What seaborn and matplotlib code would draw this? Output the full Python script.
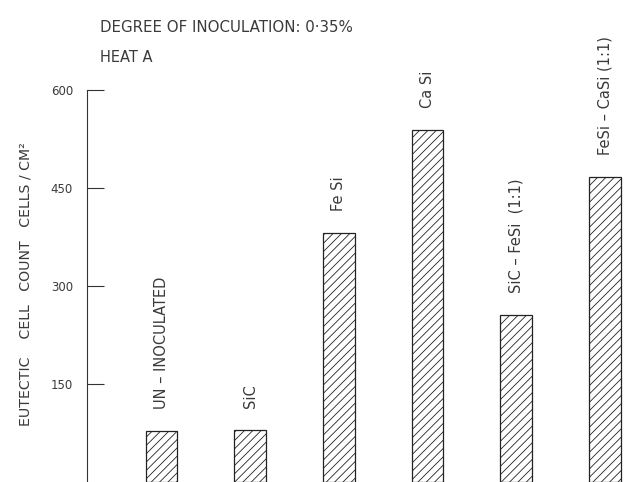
import matplotlib
matplotlib.use("Agg")
import matplotlib.pyplot as plt
import seaborn as sns
import pandas as pd

categories = ["UN – INOCULATED", "SiC", "Fe Si", "Ca Si", "SiC – FeSi  (1:1)", "FeSi – CaSi (1:1)"]
values = [78, 79, 381, 539, 256, 467]
yticks = [150, 300, 450, 600]

sns.set_theme(style="white")
plt.rcParams['font.family'] = ['DejaVu Sans']
plt.rcParams['hatch.linewidth'] = 0.6

W, H = 627, 482
fig = plt.figure(figsize=(W / 100, H / 100), dpi=100)
ax = fig.add_axes([87 / W, 0.0, 1 - 87 / W, (482 - 90) / H])

df = pd.DataFrame({"cat": categories, "val": values})
sns.barplot(data=df, x="cat", y="val", ax=ax, color="white", width=0.36,
            edgecolor="#222222", linewidth=0.9, saturation=1)
for p in ax.patches:
    p.set_hatch("////")
    p.set_facecolor("white")

txt = "#3a3a3a"
for i, (c, v) in enumerate(zip(categories, values)):
    ax.annotate(c, (i, v), xytext=(0, 16), textcoords="offset points",
                rotation=90, ha="center", va="bottom", fontsize=10.5, color=txt)

ax.set_xlim(-0.84, 5.25)
ax.set_ylim(0, 600)
ax.set_yticks(yticks)
ax.set_yticklabels([str(t) for t in yticks], fontsize=8.5, color=txt)
ax.tick_params(axis="y", direction="in", length=12, width=0.8, color="#333333", pad=10, left=True)
ax.set_xticks([])
ax.set_xlabel("")
ax.set_ylabel("")
for s in ["top", "right", "bottom"]:
    ax.spines[s].set_visible(False)
ax.spines["left"].set_color("#333333")
ax.spines["left"].set_linewidth(0.8)

fig.text(100 / W, 1 - 28 / H, "DEGREE OF INOCULATION: 0·35%", fontsize=10.8, color=txt, va="center", ha="left")
fig.text(100 / W, 1 - 57 / H, "HEAT A", fontsize=10.5, color=txt, va="center", ha="left")
fig.text(26 / W, 1 - 284 / H, "EUTECTIC    CELL   COUNT   CELLS / CM²", rotation=90,
         fontsize=10.2, color=txt, va="center", ha="center")

fig.savefig("out.png", dpi=100)
